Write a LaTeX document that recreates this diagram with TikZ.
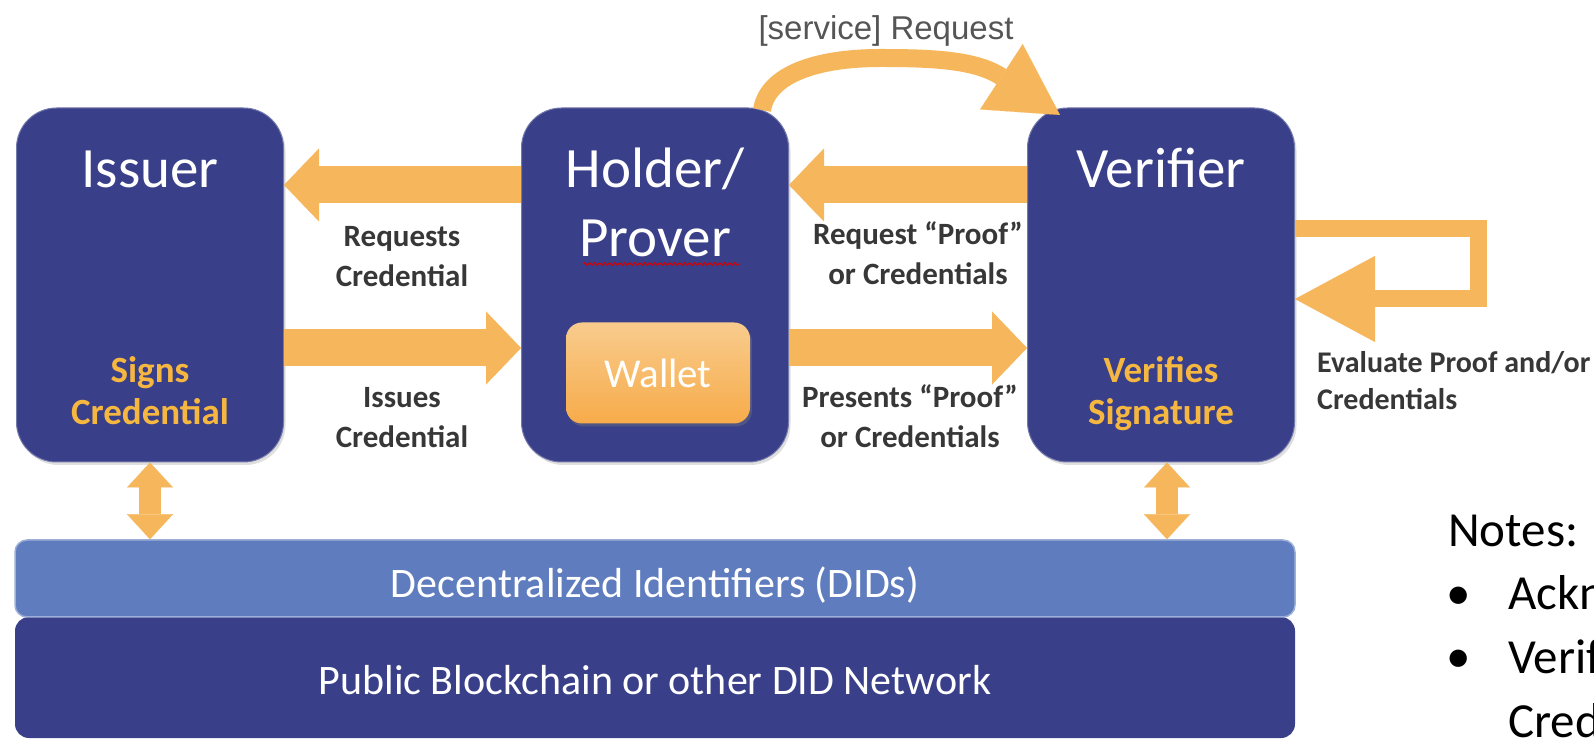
\documentclass[tikz,border=0pt]{standalone}
\usepackage{fontspec}
\setmainfont{Carlito}
\newfontfamily\arialfont{Liberation Sans}
\usetikzlibrary{arrows.meta,decorations.pathmorphing,shadows}

\definecolor{navy}{RGB}{57,63,136}
\definecolor{didblue}{RGB}{94,124,190}
\definecolor{amber}{RGB}{245,182,92}
\definecolor{signgold}{RGB}{246,183,64}
\definecolor{labelgray}{RGB}{55,55,55}
\definecolor{reqgray}{RGB}{85,85,85}

\tikzset{
  party/.style={fill=navy, draw=navy!70!white, line width=1pt, rounded corners=40pt,
    minimum width=267pt, minimum height=354pt, inner sep=0pt,
    drop shadow={opacity=0.25, shadow xshift=2pt, shadow yshift=-3pt}},
  roletitle/.style={text=white, font=\fontsize{57}{69}\selectfont, align=center, inner sep=0pt},
  duty/.style={text=signgold, font=\bfseries\fontsize{37}{42}\selectfont, align=center, inner sep=0pt},
  wallet/.style={top color=amber!70!white, bottom color=amber!80!orange, draw=none,
    rounded corners=16pt, minimum width=184pt, minimum height=101pt, text=white,
    font=\fontsize{41}{45}\selectfont, drop shadow={opacity=0.35, shadow xshift=2pt, shadow yshift=-3pt}},
  flowtext/.style={text=labelgray, font=\bfseries\fontsize{31}{40}\selectfont, align=center, inner sep=0pt},
  bartext/.style={text=white, font=\fontsize{42}{46}\selectfont, inner sep=0pt},
  didbar/.style={fill=didblue, draw=didblue!60!white, line width=1.5pt, rounded corners=12pt,
    minimum width=1280pt, minimum height=77pt},
  chainbar/.style={fill=navy, rounded corners=14pt, minimum width=1280pt, minimum height=121pt},
  flowarrow/.style={draw=amber, line width=37pt, -{Triangle[length=35pt,width=73pt,line width=0.1pt]}},
  updown/.style={draw=amber, line width=22pt,
    {Triangle[length=25pt,width=46pt,line width=0.1pt]}-{Triangle[length=25pt,width=46pt,line width=0.1pt]}},
  arcarrow/.style={draw=amber, line width=18pt, -{Triangle[length=70pt,width=78pt,line width=0.1pt]}},
  looparrow/.style={draw=amber, line width=17pt, line join=miter, -{Triangle[length=80pt,width=86pt,line width=0.1pt]}},
  notetext/.style={text=black, font=\fontsize{49}{64}\selectfont, inner sep=0pt}
}

\begin{document}
\begin{tikzpicture}[x=1pt,y=1pt]
\path[use as bounding box, clip] (0,0) rectangle (1594,741);

% bottom layers
\node[chainbar] (chain) at (655,63.5) {};
\node[didbar] (did) at (655,162.5) {};
\node[bartext, anchor=base] (didtext) at (655,143) {Decentralized Identifiers (DIDs)};
\node[bartext, anchor=base] (chaintext) at (655,46) {Public Blockchain or other DID Network};

% the three roles
\node[party] (issuer) at (150,456) {};
\node[party] (holder) at (655,456) {};
\node[party] (verifier) at (1161,456) {};

% base = last line of the node
\node[roletitle, anchor=base] (issuername) at (150,553) {Issuer};
\node[roletitle, anchor=base] (holdername) at (655,484) {Holder/\\Prover};
\node[roletitle, anchor=base] (verifiername) at (1161,553) {Verifier};
\draw[red!85!black, line width=1pt, decorate, decoration={snake, amplitude=1.3pt, segment length=5pt}]
  (583,477) -- (739,477);

\node[duty, anchor=base] (signs) at (150,316) {Signs\\Credential};
\node[duty, anchor=base] (verifies) at (1161,316) {Verifies\\Signature};
\node[wallet] (wallet) at (658,368) {Wallet};

% flows between the roles
\coordinate (upper) at (0,556);
\coordinate (lower) at (0,393);
\draw[flowarrow] (holder.west |- upper) -- (issuer.east |- upper);
\draw[flowarrow] (issuer.east |- lower) -- (holder.west |- lower);
\draw[flowarrow] (verifier.west |- upper) -- (holder.east |- upper);
\draw[flowarrow] (holder.east |- lower) -- (verifier.west |- lower);

\node[flowtext, anchor=base] (reqcred) at (402,454) {Requests\\Credential};
\node[flowtext, anchor=base] (isscred) at (402,293) {Issues\\Credential};
\node[flowtext, anchor=base] (reqproof) at (918,456) {Request “Proof”\\or Credentials};
\node[flowtext, anchor=base] (presproof) at (910,293) {Presents “Proof”\\or Credentials};

% links to the DID layer
\draw[updown] (issuer.south) -- (issuer.south |- did.north);
\draw[updown] ([xshift=6pt]verifier.south) -- ([xshift=6pt]verifier.south |- did.north);

% service request over the top
\coordinate (arcstart) at (762,631);
\coordinate (arcend) at (1060,626);
\draw[arcarrow] (arcstart) .. controls (768,668) and (820,683) .. (880,683)
  .. controls (930,683) and (975,681.5) .. (1001,664.5) -- (arcend);
\node[anchor=base, text=reqgray, font=\arialfont\fontsize{33}{36}\selectfont, inner sep=0pt]
  (servicereq) at (886,701) {[service] Request};

% evaluation loop
\coordinate (loopout) at ([yshift=56.5pt]verifier.east);
\coordinate (loopin) at ([yshift=-14pt]verifier.east);
\draw[looparrow] (loopout) -- ++(183,0) |- (loopin);
\node[flowtext, font=\bfseries\fontsize{30}{37}\selectfont, align=left, anchor=base west]
  (evaluate) at (1317,331) {Evaluate Proof and/or\\Credentials};

% notes
\node[notetext, anchor=base west] (notes) at (1448,194) {Notes:};
\node[notetext, anchor=base west] (bulletone) at (1446,131) {•};
\node[notetext, anchor=base west] (itemone) at (1508,131) {Acknowledgements};
\node[notetext, anchor=base west] (bullettwo) at (1446,68) {•};
\node[notetext, anchor=base west, align=left] (itemtwo) at (1508,4) {Verifiable\\Credentials};
\end{tikzpicture}
\end{document}
